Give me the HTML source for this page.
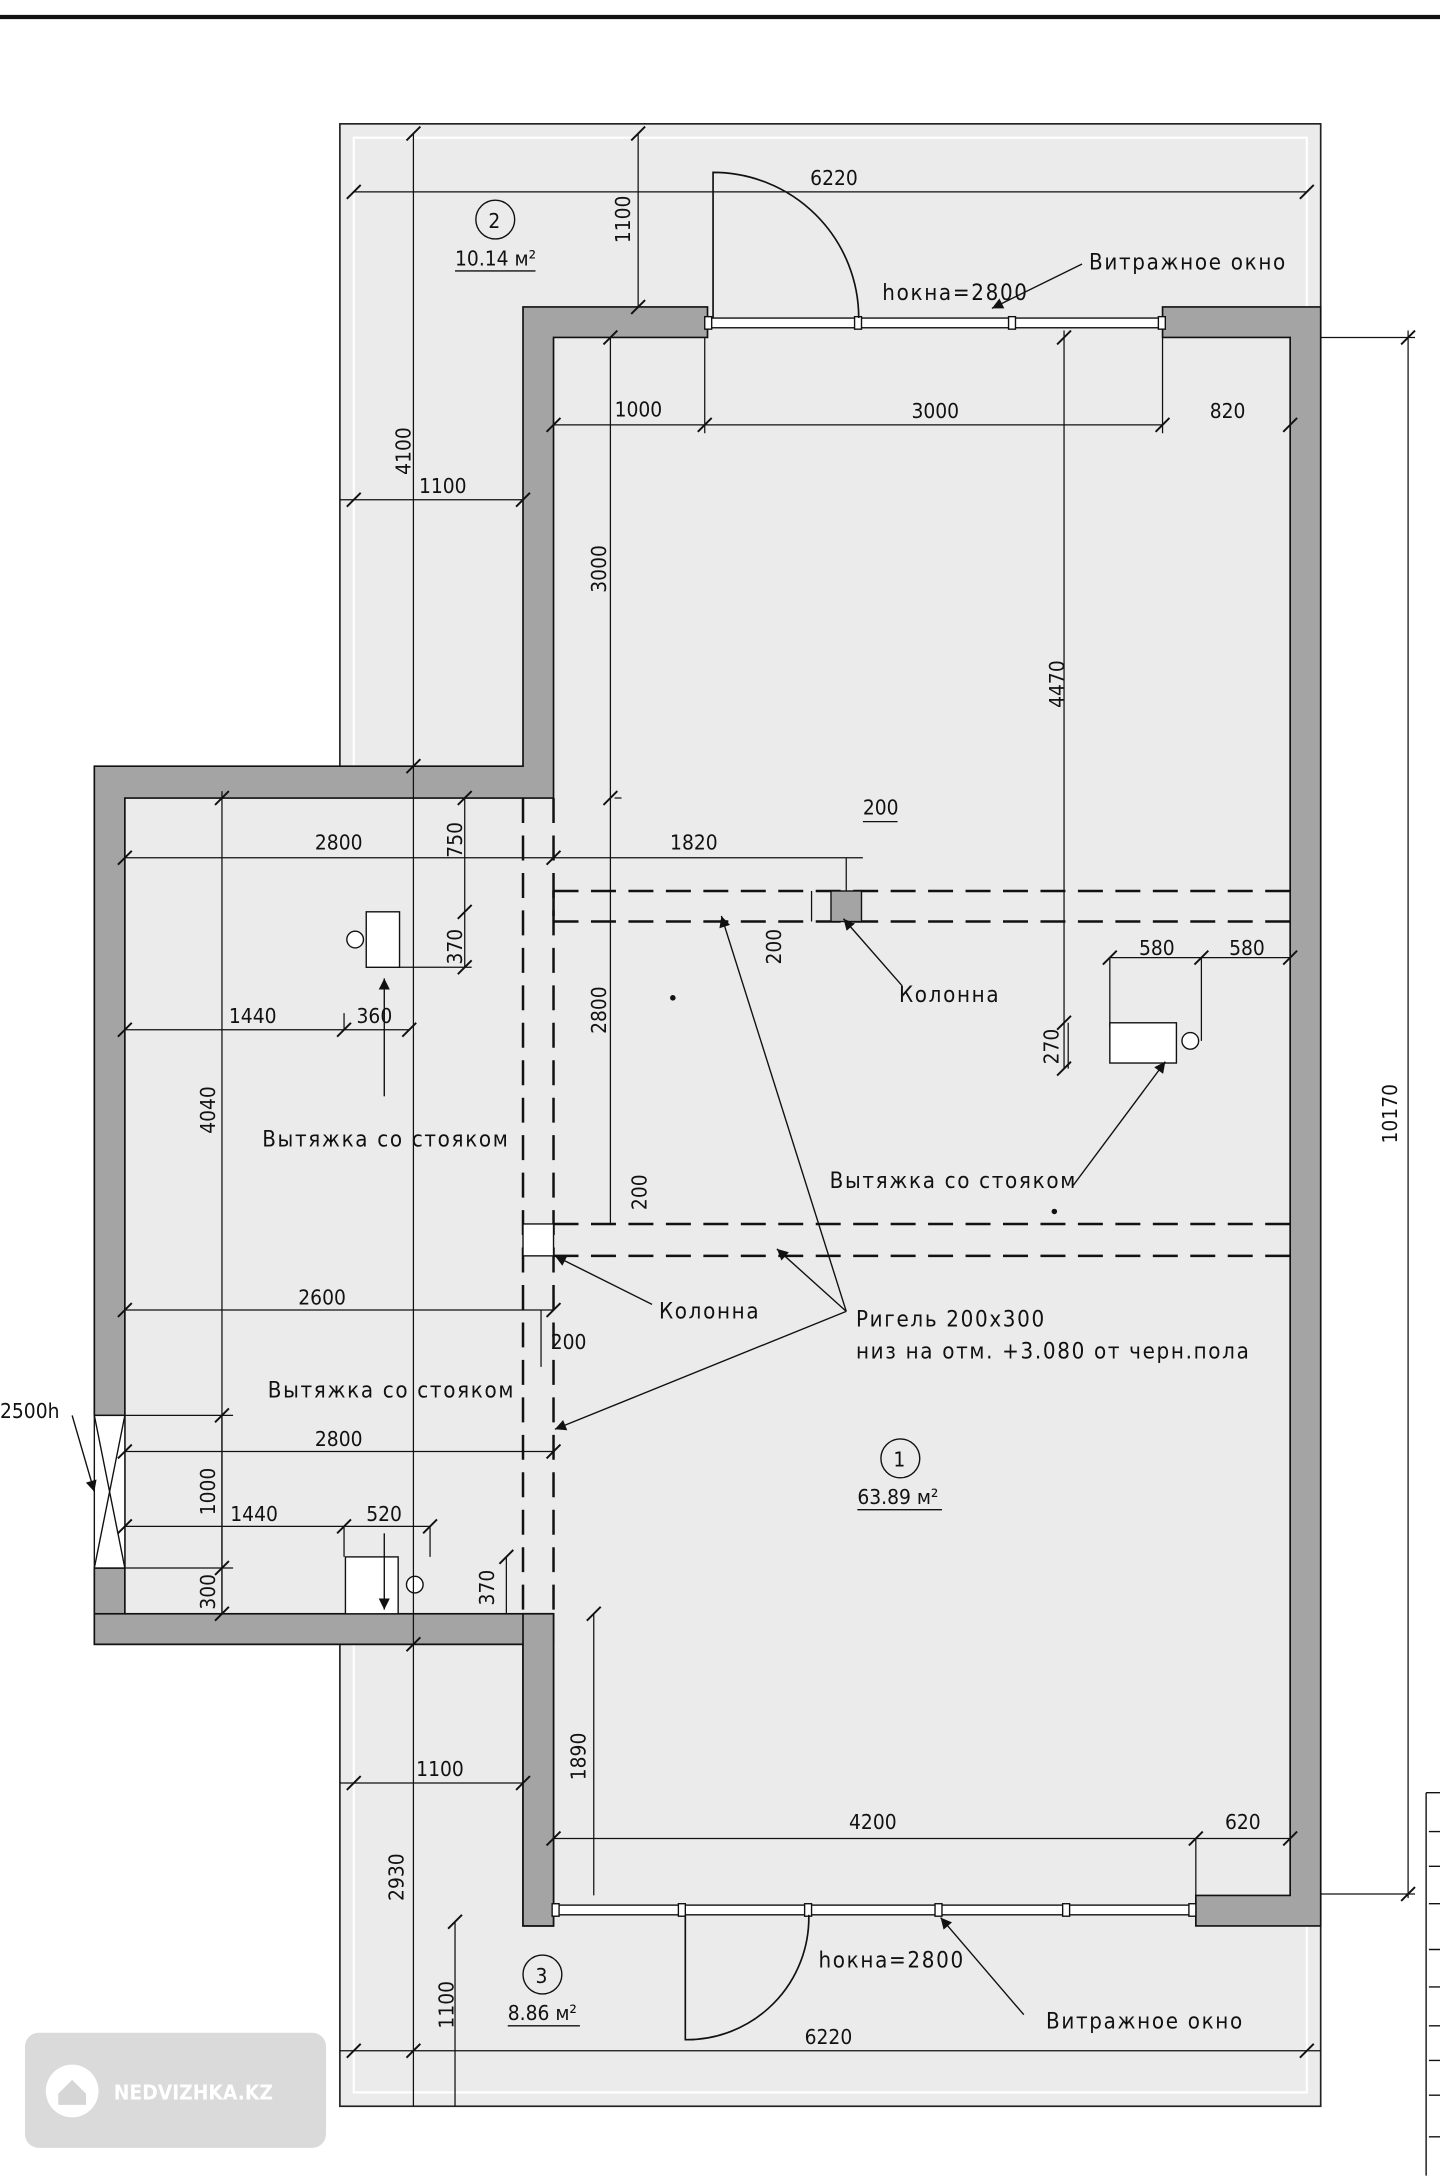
<!DOCTYPE html>
<html><head><meta charset="utf-8"><style>
html,body{margin:0;padding:0;background:#fff;}
svg{display:block}
text{font-family:"DejaVu Sans Condensed","DejaVu Sans","Liberation Sans",sans-serif;font-size:15px;fill:#111}
.lb{font-size:16px;letter-spacing:1.2px}
</style></head><body>
<svg width="1440" height="2176" viewBox="0 0 1038 1568" xmlns="http://www.w3.org/2000/svg">
<defs><marker id="ar" viewBox="0 0 10 10" refX="10" refY="5" markerWidth="12" markerHeight="8" orient="auto" markerUnits="userSpaceOnUse"><path d="M0 0 L10 5 L0 10 Z" fill="#111"/></marker></defs>
<rect width="1038" height="1568" fill="#fff"/>
<line x1="0" y1="12" x2="1038" y2="12" stroke="#111" stroke-width="3"/>
<rect x="245" y="89" width="707" height="1429" fill="#ebebeb" stroke="#222" stroke-width="1.2"/>
<rect x="255" y="99" width="687" height="1409" fill="none" stroke="#fff" stroke-width="1.5"/>
<rect x="68" y="552" width="331" height="633" fill="#ebebeb"/>
<rect x="399" y="243" width="531" height="1123" fill="#ebebeb"/>
<g fill="#a4a4a4" stroke="#111" stroke-width="1.2">
<path d="M377 221 H510 V243 H399 V575 H90 V1163 H377 V1388 H399 V1163 H399 V1185 H90 V1185 H68 V1130 H90 V1020 H68 V552 H377 Z" />
<path d="M838 221 H952 V1388 H862 V1366 H930 V243 H838 Z"/>
</g>
<rect x="68" y="1163" width="331" height="22" fill="#a4a4a4" stroke="#111" stroke-width="1.2"/>
<rect x="377" y="1163" width="22" height="225" fill="#a4a4a4" stroke="#111" stroke-width="1.2"/>
<rect x="68" y="1020" width="22" height="110" fill="#fff" stroke="#111"/>
<path d="M68 1020 L90 1130 M90 1020 L68 1130" stroke="#111"/>
<g stroke="#111" stroke-width="1" fill="#fff">
<rect x="510" y="229" width="328" height="7"/>
<rect x="399" y="1373" width="463" height="7"/>
</g>
<g fill="#fff" stroke="#111"><rect x="508" y="228" width="5" height="9"/><rect x="616" y="228" width="5" height="9"/><rect x="727" y="228" width="5" height="9"/><rect x="835" y="228" width="5" height="9"/>
<rect x="398" y="1372" width="5" height="9"/><rect x="489" y="1372" width="5" height="9"/><rect x="580" y="1372" width="5" height="9"/><rect x="674" y="1372" width="5" height="9"/><rect x="766" y="1372" width="5" height="9"/><rect x="857" y="1372" width="5" height="9"/></g>
<g fill="none" stroke="#111" stroke-width="1.2">
<path d="M514 229 V124 A105 105 0 0 1 619 229"/>
<path d="M494 1380 V1470 A88 88 0 0 0 583 1380"/>
</g>
<g stroke="#111" stroke-width="1.8" stroke-dasharray="18,9" fill="none">
<line x1="377" y1="575" x2="377" y2="1163"/><line x1="399" y1="575" x2="399" y2="1163"/>
<line x1="399" y1="642" x2="930" y2="642"/><line x1="399" y1="664" x2="930" y2="664"/>
<line x1="399" y1="882" x2="930" y2="882"/><line x1="399" y1="905" x2="930" y2="905"/>
<line x1="399" y1="642" x2="399" y2="664"/>
</g>
<rect x="599" y="642" width="22" height="22" fill="#a4a4a4" stroke="#111"/>
<rect x="377" y="882" width="22" height="23" fill="#fff" stroke="#111"/>
<g fill="#fff" stroke="#111">
<rect x="264" y="657" width="24" height="40"/><circle cx="256" cy="677" r="6"/>
<rect x="800" y="737" width="48" height="29"/><circle cx="858" cy="750" r="6"/>
<rect x="249" y="1122" width="38" height="41"/><circle cx="299" cy="1142" r="6"/>
</g>
<g stroke="#111" stroke-width="0.9" fill="none">
<path d="M298 96 V1518 M460 96 V221 M245 360 H377 M298 1185 V1518 M245 1285 H377 M328 1385 V1518 M245 1478 H952"/>
<path d="M255 138 H942 M399 306 H838 M508 243 V312 M838 243 V312"/>
<path d="M440 243 V575 M767 238 V770 M1015 238 V1368 M952 243 H1020 M952 1365 H1020"/>
<path d="M90 618 H399 M335 575 V697 M288 697 H340 M90 742 H295 M248 742 V730 M160 570 V1163 M399 618 H622 M610 618 V642 M585 642 V664 M443 575 H448 M440 575 V882 M622 592 H647"/>
<path d="M800 690 H930 M866 690 V750 M800 690 V740 M770 737 V770"/>
<path d="M90 944 H399 M390 944 V985 M90 1020 H168 M90 1046 H399 M160 1020 V1163 M90 1100 H310 M248 1100 V1122 M310 1100 V1122 M365 1122 V1163 M90 1130 H168"/>
<path d="M428 1163 V1366 M399 1325 H930 M862 1325 V1366"/>
</g>
<g fill="#111" stroke="#111" stroke-width="1.4">
<path d="M293 101 l10 -10 M455 101 l10 -10 M293 557 l10 -10 M250 365 l10 -10 M372 365 l10 -10 M250 143 l10 -10 M937 143 l10 -10 M455 226 l10 -10 M435 248 l10 -10 M435 580 l10 -10 M394 311 l10 -10 M503 311 l10 -10 M833 311 l10 -10 M925 311 l10 -10 M762 248 l10 -10 M1010 248 l10 -10 M1010 1370 l10 -10 M85 623 l10 -10 M394 623 l10 -10 M155 580 l10 -10 M330 580 l10 -10 M330 662 l10 -10 M330 702 l10 -10 M85 747 l10 -10 M243 747 l10 -10 M290 747 l10 -10 M795 695 l10 -10 M861 695 l10 -10 M925 695 l10 -10 M762 742 l10 -10 M762 775 l10 -10 M85 949 l10 -10 M394 949 l10 -10 M85 1051 l10 -10 M394 1051 l10 -10 M155 1025 l10 -10 M155 1135 l10 -10 M155 1168 l10 -10 M85 1105 l10 -10 M243 1105 l10 -10 M305 1105 l10 -10 M360 1127 l10 -10 M423 1168 l10 -10 M394 1330 l10 -10 M857 1330 l10 -10 M925 1330 l10 -10 M293 1190 l10 -10 M250 1290 l10 -10 M372 1290 l10 -10 M293 1483 l10 -10 M323 1390 l10 -10 M250 1483 l10 -10 M937 1483 l10 -10"/>
</g>
<g stroke="#111" stroke-width="1" fill="none" marker-end="url(#ar)">
<path d="M610 945 L520 660"/><path d="M610 945 L560 900"/><path d="M610 945 L400 1030"/>
<path d="M650 710 L608 662"/><path d="M470 940 L400 905"/>
<path d="M277 790 V705"/><path d="M277 1105 V1160"/>
<path d="M773 855 L840 765"/><path d="M780 190 L715 222"/>
<path d="M738 1452 L678 1382"/><path d="M52 1020 L68 1075"/>
</g>
<g fill="#111">
<circle cx="485" cy="719" r="2"/><circle cx="760" cy="873" r="2"/>
</g>
<text x="584" y="133">6220</text>
<text x="443" y="300">1000</text><text x="657" y="301">3000</text><text x="872" y="301">820</text>
<text x="302" y="355">1100</text>
<text x="227" y="612">2800</text><text x="483" y="612">1820</text><text x="622" y="587">200</text>
<text x="165" y="737">1440</text><text x="257" y="737">360</text>
<text x="821" y="688">580</text><text x="886" y="688">580</text>
<text x="215" y="940">2600</text><text x="227" y="1042">2800</text>
<text x="166" y="1096">1440</text><text x="264" y="1096">520</text><text x="397" y="972">200</text>
<text x="300" y="1280">1100</text><text x="612" y="1318">4200</text><text x="883" y="1318">620</text>
<text x="580" y="1473">6220</text>
<g>
<text transform="translate(454,175) rotate(-90)">1100</text>
<text transform="translate(296,342) rotate(-90)">4100</text>
<text transform="translate(437,427) rotate(-90)">3000</text>
<text transform="translate(767,510) rotate(-90)">4470</text>
<text transform="translate(333,618) rotate(-90)">750</text>
<text transform="translate(333,695) rotate(-90)">370</text>
<text transform="translate(563,695) rotate(-90)">200</text>
<text transform="translate(437,745) rotate(-90)">2800</text>
<text transform="translate(155,817) rotate(-90)">4040</text>
<text transform="translate(763,767) rotate(-90)">270</text>
<text transform="translate(466,872) rotate(-90)">200</text>
<text transform="translate(1007,824) rotate(-90)">10170</text>
<text transform="translate(155,1092) rotate(-90)">1000</text>
<text transform="translate(155,1160) rotate(-90)">300</text>
<text transform="translate(356,1157) rotate(-90)">370</text>
<text transform="translate(422,1283) rotate(-90)">1890</text>
<text transform="translate(291,1370) rotate(-90)">2930</text>
<text transform="translate(327,1462) rotate(-90)">1100</text>
</g>
<text class="lb" x="785" y="194">Витражное окно</text>
<text class="lb" x="636" y="216">hокна=2800</text>
<text class="lb" x="648" y="722">Колонна</text>
<text class="lb" x="189" y="826">Вытяжка со стояком</text>
<text class="lb" x="598" y="856">Вытяжка со стояком</text>
<text class="lb" x="475" y="950">Колонна</text>
<text class="lb" x="617" y="956">Ригель 200х300</text>
<text class="lb" x="617" y="979">низ на отм. +3.080 от черн.пола</text>
<text class="lb" x="193" y="1007">Вытяжка со стояком</text>
<text x="0" y="1022" font-size="16">2500h</text>
<text class="lb" x="590" y="1418">hокна=2800</text>
<text class="lb" x="754" y="1462">Витражное окно</text>
<g fill="none" stroke="#111"><circle cx="357" cy="158" r="14"/><circle cx="649" cy="1051" r="14"/><circle cx="391" cy="1423" r="14"/>
<path d="M328 195 H386 M618 1088 H679 M366 1460 H418"/></g>
<text x="352" y="164">2</text><text x="644" y="1057">1</text><text x="386" y="1429">3</text>
<text x="328" y="191">10.14 м²</text><text x="618" y="1084">63.89 м²</text><text x="366" y="1456">8.86 м²</text>
<g stroke="#111" fill="none"><path d="M1028 1292 V1568 M1028 1292 H1038 M1030 1320 H1038 M1030 1345 H1038 M1030 1372 H1038 M1030 1405 H1038 M1030 1432 H1038 M1030 1460 H1038 M1030 1485 H1038 M1030 1510 H1038 M1030 1540 H1038"/></g>
<rect x="18" y="1465" width="217" height="83" rx="10" fill="#d6d6d6" opacity="0.9"/>
<circle cx="52" cy="1507" r="19" fill="#fff"/>
<path d="M42 1509 L52 1499 L62 1509 V1517 H42 Z" fill="#d6d6d6"/>
<text x="82" y="1513" font-size="16" font-weight="bold" style="fill:#fff">NEDVIZHKA.KZ</text>
</svg>
</body></html>
